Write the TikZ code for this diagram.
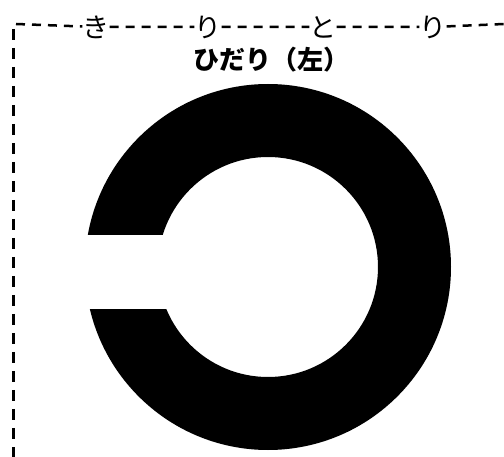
\documentclass[tikz,border=0pt]{standalone}
\usepackage{fontspec}
\newfontfamily\jp{Noto Sans CJK JP}
\usepackage{tikz}
\usetikzlibrary{positioning}
\definecolor{ink}{HTML}{000000}

\begin{document}
\begin{tikzpicture}[x=1pt,y=-1pt,
  topdash/.style={ink,line width=2.5pt,dash pattern=on 9pt off 7pt},
  sidedash/.style={ink,line width=2.5pt,dash pattern=on 11pt off 8pt},
  kana/.style={inner sep=0pt,font=\jp\fontsize{27}{27}\selectfont,text=ink}]
\useasboundingbox (0,0) rectangle (504,457);
% frame with the hidden word
\coordinate (corner) at (16,24);
\coordinate (edge) at (504,24);
\coordinate (sidetop) at (13.5,29);
\coordinate (sidebottom) at (13.5,457);
\node[kana] (ki) at (96,27) {き};
\node[kana] (ri) at (208,27) {り};
\node[kana] (to) at (323,27) {と};
\node[kana] (rii) at (433,27) {り};
\draw[topdash] (corner) -- (ki) -- (ri) -- (to) -- (rii) -- (edge);
\draw[sidedash] (sidetop) -- (sidebottom);
\node[font=\jp\bfseries\fontsize{26}{26}\selectfont,text=ink] (title) at (271,60) {ひだり（左）};
% ring with its gap on the left
\fill[ink,even odd rule] (268,267) circle (183) (268,267) circle (110);
\fill[white] (70,235) rectangle (175,309);
\end{tikzpicture}
\end{document}
